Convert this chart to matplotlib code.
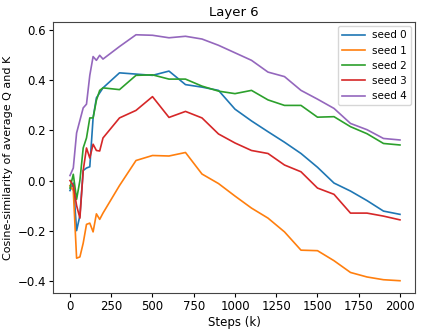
import matplotlib
matplotlib.use("Agg")
import matplotlib.pyplot as plt

steps = [0, 20, 40, 60, 80, 100, 120, 140, 160, 180, 200, 300, 400, 500, 600, 700,
         800, 900, 1000, 1100, 1200, 1300, 1400, 1500, 1600, 1700, 1800, 1900, 2000]

seed0 = [-0.04, -0.01, -0.20, -0.14, 0.04, 0.05, 0.055, 0.25, 0.33, 0.35, 0.37, 0.43, 0.425,
         0.42, 0.437, 0.383, 0.373, 0.36, 0.285, 0.238, 0.195, 0.153, 0.108, 0.053, -0.01,
         -0.042, -0.08, -0.122, -0.135]
seed1 = [-0.02, -0.04, -0.31, -0.305, -0.25, -0.175, -0.17, -0.205, -0.133, -0.155, -0.13,
         -0.02, 0.08, 0.10, 0.098, 0.112, 0.026, -0.012, -0.062, -0.11, -0.15, -0.205,
         -0.278, -0.28, -0.32, -0.367, -0.385, -0.396, -0.40]
seed2 = [-0.03, 0.025, -0.075, 0.0, 0.13, 0.17, 0.25, 0.25, 0.32, 0.36, 0.37, 0.363, 0.42,
         0.422, 0.405, 0.405, 0.377, 0.357, 0.347, 0.36, 0.322, 0.30, 0.30, 0.253, 0.255,
         0.215, 0.187, 0.148, 0.142]
seed3 = [0.0, -0.02, -0.10, -0.15, 0.04, 0.13, 0.09, 0.145, 0.12, 0.118, 0.17, 0.25, 0.28,
         0.335, 0.252, 0.276, 0.25, 0.186, 0.15, 0.12, 0.108, 0.062, 0.035, -0.03, -0.055,
         -0.13, -0.13, -0.142, -0.157]
seed4 = [0.02, 0.05, 0.19, 0.24, 0.29, 0.305, 0.42, 0.495, 0.48, 0.50, 0.485, 0.535, 0.582,
         0.58, 0.57, 0.576, 0.565, 0.54, 0.51, 0.48, 0.433, 0.415, 0.36, 0.325, 0.288,
         0.228, 0.203, 0.168, 0.162]

series = [seed0, seed1, seed2, seed3, seed4]
labels = ["seed 0", "seed 1", "seed 2", "seed 3", "seed 4"]

plt.rcParams["font.size"] = 8.5
fig = plt.figure(figsize=(4.23, 3.32), dpi=100)
ax = fig.add_axes([53/423, 1 - 293/332, (415-53)/423, (293-22)/332])
for s, lab in zip(series, labels):
    ax.plot(steps, s, label=lab, linewidth=1.2)
ax.set_title("Layer 6", fontsize=9.5, pad=4)
ax.set_xlabel("Steps (k)", fontsize=8.5, labelpad=2)
ax.set_ylabel("Cosine-similarity of average Q and K", fontsize=8, labelpad=3)
ax.set_xticks([0, 250, 500, 750, 1000, 1250, 1500, 1750, 2000])
ax.set_yticks([-0.4, -0.2, 0.0, 0.2, 0.4, 0.6])
ax.tick_params(labelsize=8.5, length=3, pad=2)
for sp in ax.spines.values():
    sp.set_color("#444444")
ax.set_xlim(-103, 2091)
ax.set_ylim(-0.449, 0.633)
ax.legend(loc="upper right", fontsize=7.5, handlelength=2.2, handletextpad=0.7,
          borderaxespad=0.4)
fig.savefig("out.png", dpi=100)
